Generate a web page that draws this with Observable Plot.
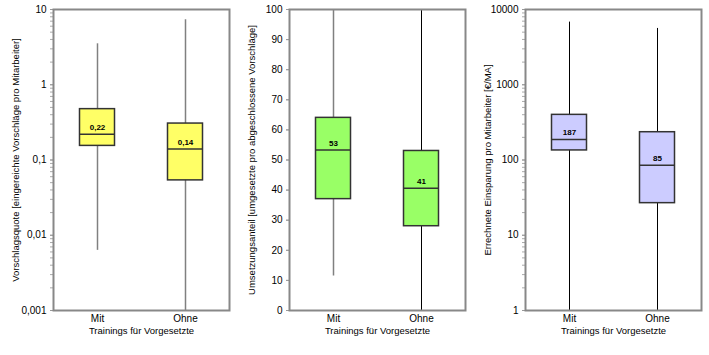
<!DOCTYPE html>
<html><head><meta charset="utf-8">
<script src="https://cdn.jsdelivr.net/npm/d3@7"></script>
<script src="https://cdn.jsdelivr.net/npm/@observablehq/plot@0.6"></script>
<style>
body{margin:0;background:#fff;}
#wrap{position:relative;width:709px;height:355px;}
#wrap svg{position:absolute;top:0;font-family:"Liberation Sans",Arial,sans-serif;}
</style></head><body><div id="wrap"></div>
<script>
// ---- shared categories / labels
const groups = ["Mit", "Ohne"];
const xLabel = "Trainings für Vorgesetzte";

// ---- Panel 1: Vorschlagsquote (log)
const p1Label = "Vorschlagsquote [eingereichte Vorschläge pro Mitarbeiter]";
const p1Min = [0.0063, 0.001];
const p1Q1 = [0.154, 0.0536];
const p1Median = [0.22, 0.14];
const p1Q3 = [0.474, 0.305];
const p1Max = [3.5, 7.3];
const p1MedianText = ["0,22", "0,14"];
const p1Ticks = [0.001, 0.01, 0.1, 1, 10];
const p1TickText = ["0,001", "0,01", "0,1", "1", "10"];

// ---- Panel 2: Umsetzungsanteil (linear)
const p2Label = "Umsetzungsanteil [umgesetzte pro abgeschlossene Vorschläge]";
const p2Min = [11.5, 0];
const p2Q1 = [37, 28];
const p2Median = [53.3, 40.6];
const p2Q3 = [64, 53];
const p2Max = [100, 100];
const p2MedianText = ["53", "41"];
const p2Ticks = [0, 10, 20, 30, 40, 50, 60, 70, 80, 90, 100];
const p2TickText = ["0", "10", "20", "30", "40", "50", "60", "70", "80", "90", "100"];

// ---- Panel 3: Errechnete Einsparung (log)
const p3Label = "Errechnete Einsparung pro Mitarbeiter [€/MA]";
const p3Min = [1, 1];
const p3Q1 = [134, 26.7];
const p3Median = [187, 85];
const p3Q3 = [398, 234];
const p3Max = [6800, 5600];
const p3MedianText = ["187", "85"];
const p3Ticks = [1, 10, 100, 1000, 10000];
const p3TickText = ["1", "10", "100", "1000", "10000"];

function rows(mn, q1, med, q3, mx, txt) {
  return groups.map((g, i) => ({g, lo: mn[i], q1: q1[i], med: med[i], q3: q3[i], hi: mx[i], label: txt[i]}));
}

function panel({left, width, data, label, ticks, tickText, type, fill, whisker}) {
  const domain = [ticks[0], ticks[ticks.length - 1]];
  const minor = type === "log" ? d3.scaleLog().domain(domain).ticks() : ticks;
  const inset = 26.5;
  const svg = Plot.plot({
    width, height: 355,
    marginLeft: 53, marginRight: width - 53 - 176, marginTop: 9, marginBottom: 45,
    style: {fontFamily: "'Liberation Sans', Arial, sans-serif", background: "transparent", color: "#000"},
    x: {type: "band", domain: groups, padding: 0},
    y: {type, domain},
    marks: [
      Plot.axisY({ticks: minor, tickSize: 3, tickFormat: () => "", stroke: "#aaa", label: null}),
      Plot.axisY({ticks, tickSize: 3, tickPadding: 4, stroke: "#999", fontSize: 10,
        tickFormat: (d) => tickText[ticks.indexOf(d)], label: null}),
      Plot.axisX({tickSize: 0, tickPadding: 4, fontSize: 10, label: null}),
      Plot.text([label], {frameAnchor: "left", textAnchor: "middle", rotate: -90, dx: -38, fontSize: 9.5}),
      Plot.text([xLabel], {frameAnchor: "bottom", dy: 23, fontSize: 9.5}),
      Plot.ruleX(data, {x: "g", y1: "lo", y2: "hi", stroke: (d, i) => whisker[i].color, strokeWidth: (d, i) => whisker[i].width}),
      Plot.barY(data, {x: "g", y1: "q1", y2: "q3", fill, stroke: "#333", strokeWidth: 1.5, insetLeft: inset, insetRight: inset}),
      Plot.tickY(data, {x: "g", y: "med", stroke: "#333", strokeWidth: 1.5, insetLeft: inset, insetRight: inset}),
      Plot.text(data, {x: "g", y: "med", text: "label", dy: -7, fontSize: 8, fontWeight: "bold"}),
      Plot.frame({stroke: "#888", strokeWidth: 2})
    ]
  });
  svg.style.left = left + "px";
  return svg;
}

const wrap = document.getElementById("wrap");
wrap.append(
  panel({left: 0, width: 236, data: rows(p1Min, p1Q1, p1Median, p1Q3, p1Max, p1MedianText),
    label: p1Label, ticks: p1Ticks, tickText: p1TickText, type: "log", fill: "#ffff66",
    whisker: [{color: "#808080", width: 1.5}, {color: "#808080", width: 1.5}]}),
  panel({left: 236, width: 236, data: rows(p2Min, p2Q1, p2Median, p2Q3, p2Max, p2MedianText),
    label: p2Label, ticks: p2Ticks, tickText: p2TickText, type: "linear", fill: "#99ff66",
    whisker: [{color: "#808080", width: 1.5}, {color: "#000", width: 1}]}),
  panel({left: 472, width: 237, data: rows(p3Min, p3Q1, p3Median, p3Q3, p3Max, p3MedianText),
    label: p3Label, ticks: p3Ticks, tickText: p3TickText, type: "log", fill: "#ccccff",
    whisker: [{color: "#000", width: 1}, {color: "#000", width: 1}]})
);
</script></body></html>
